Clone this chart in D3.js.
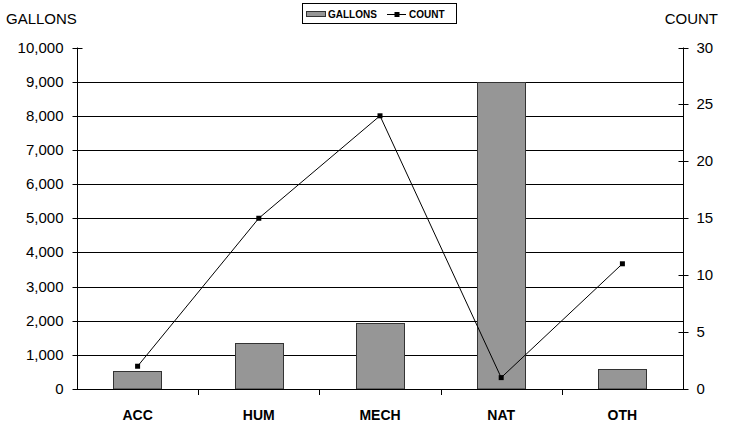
<!DOCTYPE html>
<html><head><meta charset="utf-8">
<script src="https://cdn.jsdelivr.net/npm/d3@7"></script>
<style>body{margin:0;background:#fff}svg{display:block}text{font-family:"Liberation Sans",Arial,sans-serif}</style>
</head><body>
<svg id="c" width="733" height="423"></svg>
<script>
const categories = ["ACC","HUM","MECH","NAT","OTH"];
const gallons = [540, 1350, 1930, 9000, 600];
const counts = [2, 15, 24, 1, 11];
const leftTicks = [0,1000,2000,3000,4000,5000,6000,7000,8000,9000,10000];
const rightTicks = [0,5,10,15,20,25,30];

const svg = d3.select("#c");
const L = 77, R = 683, T = 47.5, B = 389;
const x = d3.scaleBand().domain(categories).range([L, R]).paddingInner(0.6).paddingOuter(0.3);
const xb = d3.scaleBand().domain(categories).range([L, R]);
const yL = d3.scaleLinear().domain([0, 10000]).range([B, T]);
const yR = d3.scaleLinear().domain([0, 30]).range([B, T]);

// gridlines
svg.append("g").selectAll("line").data(leftTicks.filter(d => d > 0 && d < 10000)).join("line")
  .attr("x1", L).attr("x2", R).attr("y1", d => Math.round(yL(d)) + 0.5).attr("y2", d => Math.round(yL(d)) + 0.5)
  .attr("stroke", "#000").attr("stroke-width", 1);

// bars
svg.append("g").selectAll("rect").data(gallons).join("rect")
  .attr("x", (d, i) => Math.round(x(categories[i])) + 0.5)
  .attr("width", Math.round(x.bandwidth()))
  .attr("y", d => Math.round(yL(d)) + 0.5)
  .attr("height", d => B - Math.round(yL(d)) - 0.5)
  .attr("fill", "#969696").attr("stroke", "#333").attr("stroke-width", 1);

// left axis
const gl = svg.append("g").attr("transform", `translate(${L + 0.5},0)`)
  .call(d3.axisLeft(yL).tickValues(leftTicks).tickFormat(d3.format(",")).tickSize(5).tickPadding(9));
gl.selectAll(".tick line").attr("x2", 5).attr("x1", -5);
gl.selectAll(".tick text").attr("font-size", 15).attr("font-family", "Liberation Sans, Arial, sans-serif").attr("fill", "#000");
gl.select(".domain").attr("d", `M0,${T}V${B}`);
gl.selectAll(".tick").attr("transform", d => `translate(0,${Math.round(yL(d)) + 0.5})`);

// right axis
const gr = svg.append("g").attr("transform", `translate(${R + 0.5},0)`)
  .call(d3.axisRight(yR).tickValues(rightTicks).tickSize(5).tickPadding(8));
gr.selectAll(".tick line").attr("x1", -5).attr("x2", 5);
gr.selectAll(".tick text").attr("font-size", 15).attr("font-family", "Liberation Sans, Arial, sans-serif").attr("fill", "#000");
gr.select(".domain").attr("d", `M0,${T}V${B}`);
gr.selectAll(".tick").attr("transform", d => `translate(0,${Math.round(yR(d)) + 0.5})`);

// x axis
const gx = svg.append("g").attr("transform", `translate(0,${B + 0.5})`)
  .call(d3.axisBottom(xb).tickSize(0).tickPadding(21));
gx.select(".domain").attr("d", `M${L},0H${R}`);
gx.selectAll(".tick text").attr("font-size", 14).attr("font-weight", "bold").attr("font-family", "Liberation Sans, Arial, sans-serif").attr("fill", "#000");
svg.append("g").selectAll("line").data(categories.slice(1)).join("line")
  .attr("x1", d => Math.round(xb(d)) + 0.5).attr("x2", d => Math.round(xb(d)) + 0.5)
  .attr("y1", B).attr("y2", B + 6).attr("stroke", "#000");

// count line
const cx = (d, i) => x(categories[i]) + x.bandwidth() / 2;
svg.append("path").datum(counts)
  .attr("d", d3.line().x(cx).y(d => yR(d)))
  .attr("fill", "none").attr("stroke", "#000").attr("stroke-width", 1);
svg.append("g").selectAll("rect").data(counts).join("rect")
  .attr("x", (d, i) => cx(d, i) - 2.5).attr("y", d => yR(d) - 2.5)
  .attr("width", 5).attr("height", 5).attr("fill", "#000");

// axis titles
svg.append("text").attr("x", 6).attr("y", 24).attr("font-size", 15).text("GALLONS");
svg.append("text").attr("x", 718).attr("y", 24).attr("font-size", 15).attr("text-anchor", "end").text("COUNT");

// legend
const lg = svg.append("g");
lg.append("rect").attr("x", 302.5).attr("y", 3.5).attr("width", 154).attr("height", 20).attr("fill", "#fff").attr("stroke", "#000");
lg.append("rect").attr("x", 306.5).attr("y", 11.5).attr("width", 19).attr("height", 5).attr("fill", "#969696").attr("stroke", "#333");
lg.append("text").attr("x", 328).attr("y", 18).attr("font-size", 10).attr("font-weight", "bold").text("GALLONS");
lg.append("line").attr("x1", 387).attr("x2", 406).attr("y1", 14.5).attr("y2", 14.5).attr("stroke", "#000");
lg.append("rect").attr("x", 394.5).attr("y", 12).attr("width", 5).attr("height", 5).attr("fill", "#000");
lg.append("text").attr("x", 409).attr("y", 18).attr("font-size", 10).attr("font-weight", "bold").text("COUNT");
</script>
</body></html>
